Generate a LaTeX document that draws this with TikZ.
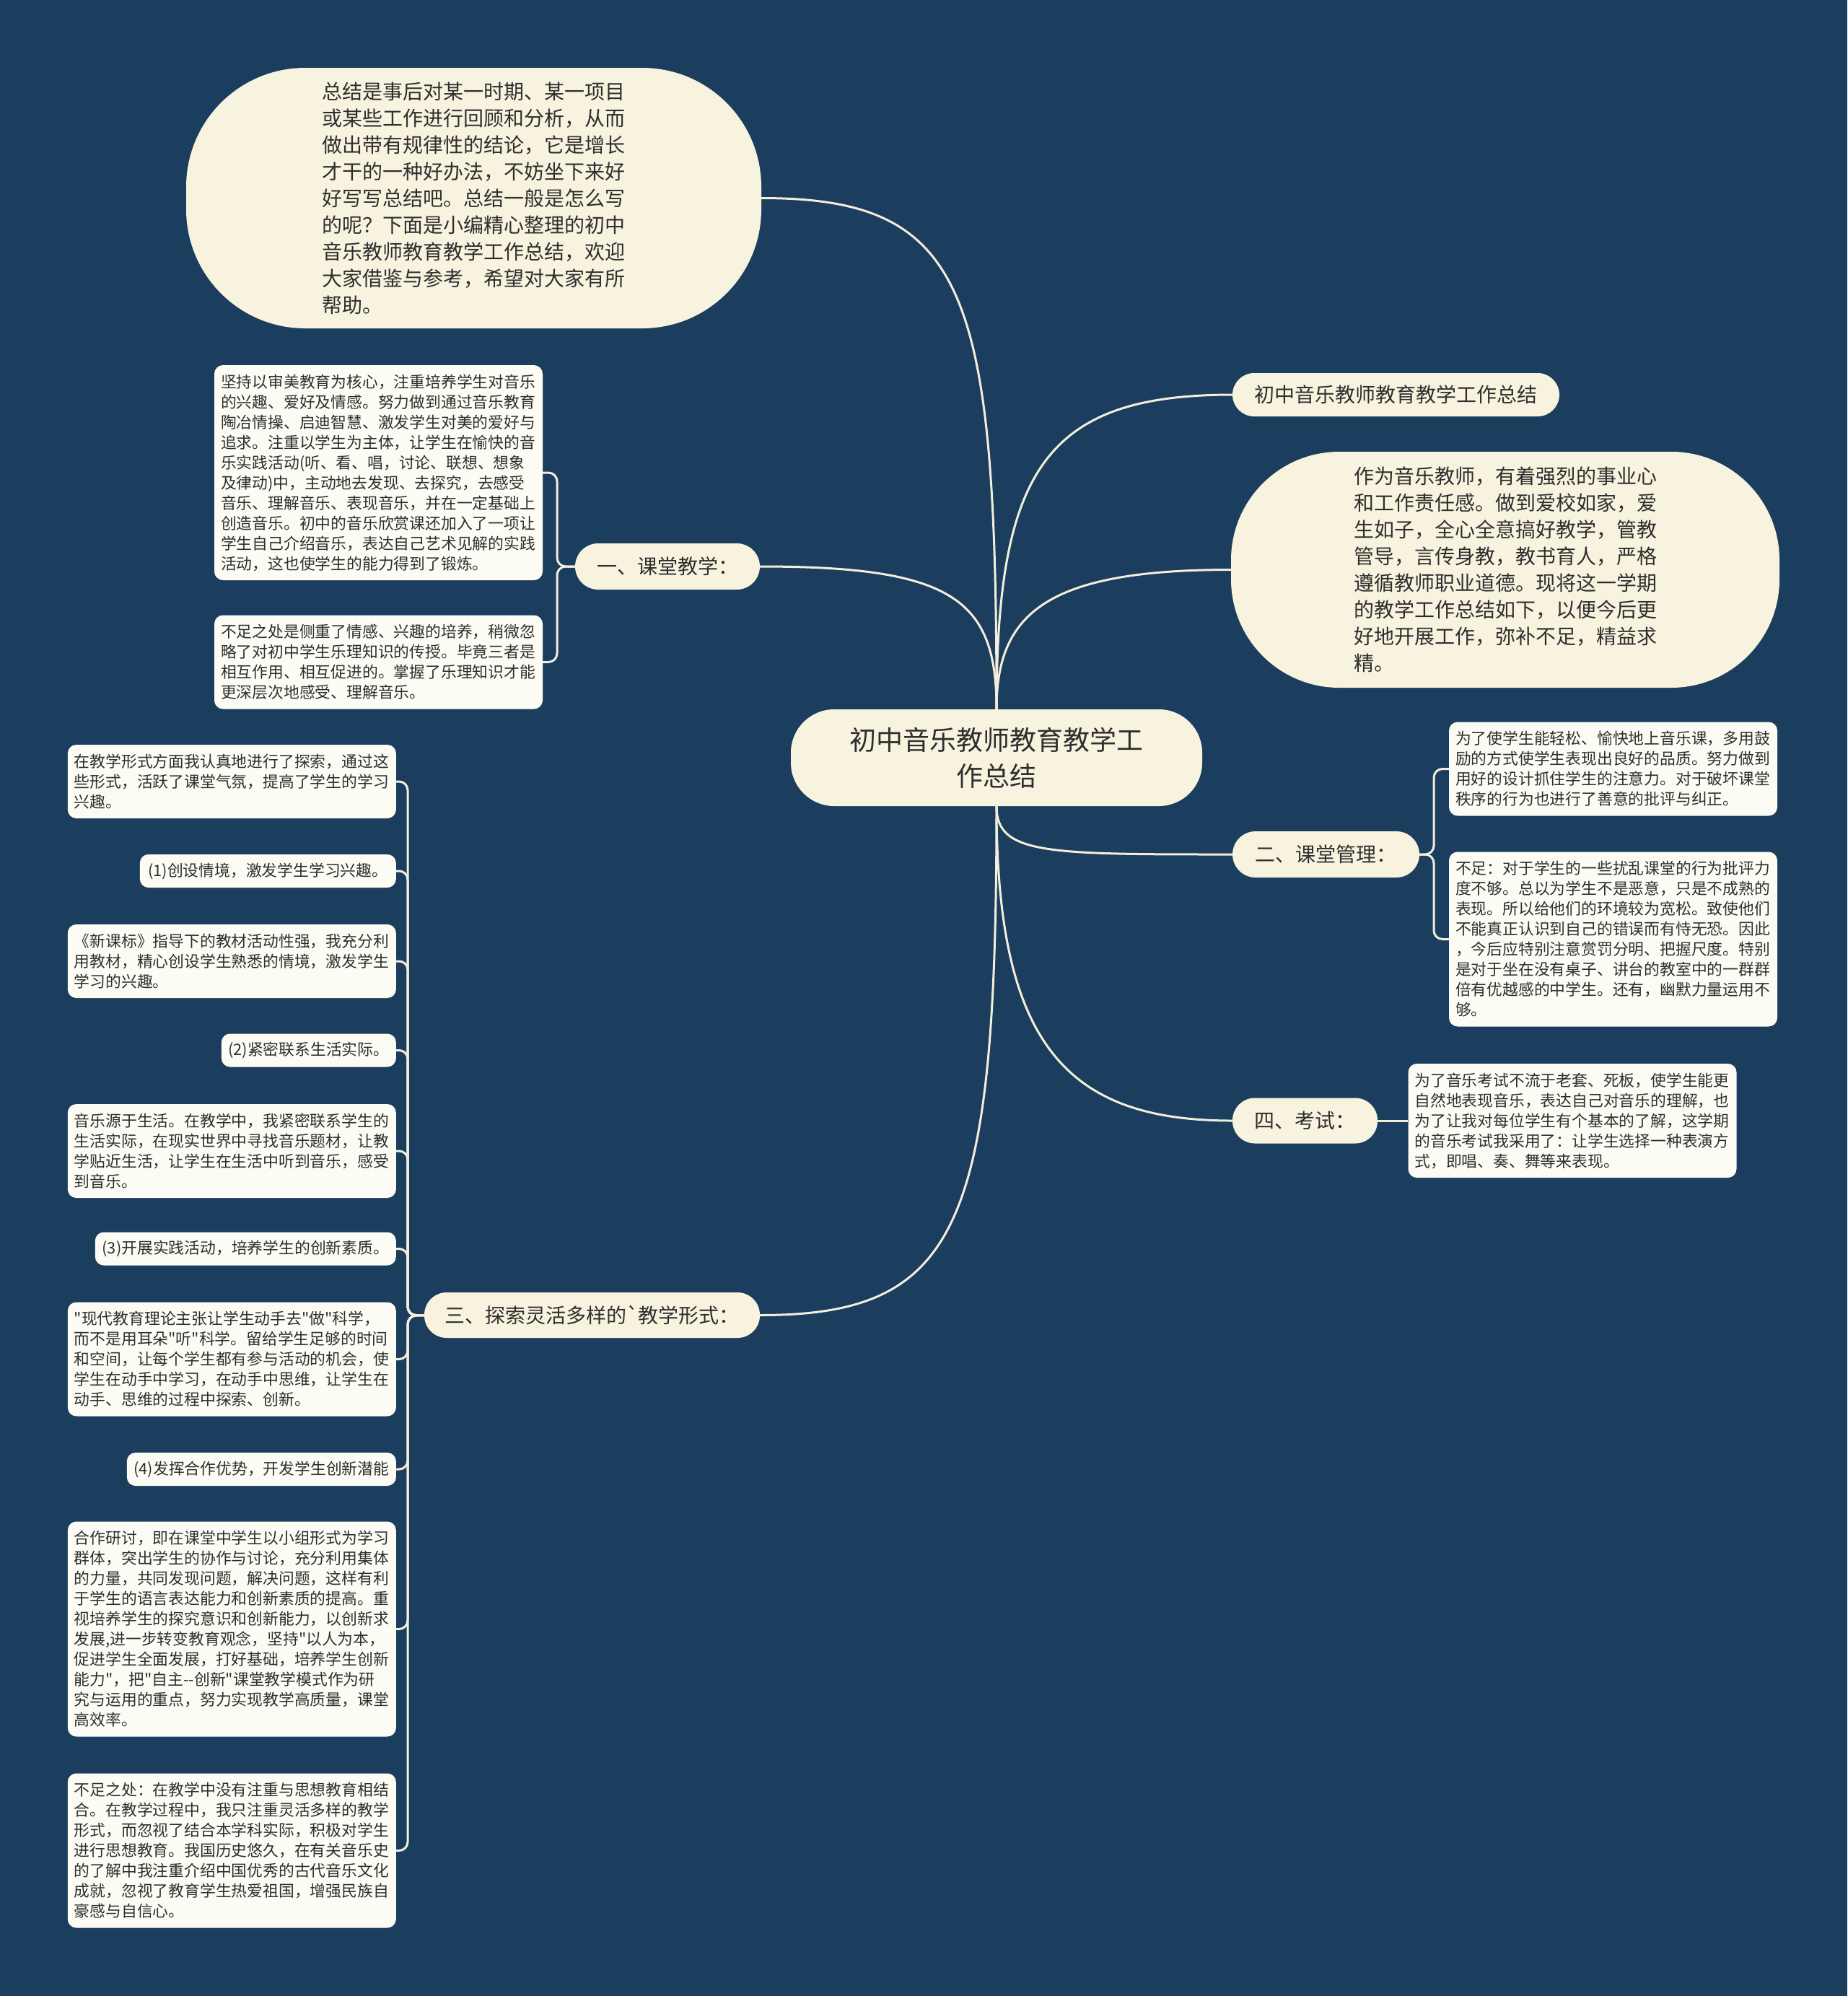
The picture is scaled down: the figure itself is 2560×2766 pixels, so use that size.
\documentclass[tikz,border=0pt]{standalone}
\usepackage{fontspec}
\newfontfamily\cjk{Noto Sans CJK SC}[Ligatures=TeXOff]
\newcommand\myleaf{\cjk\fontsize{21.8}{28}\selectfont}
\newcommand\mymid{\cjk\fontsize{28}{37}\selectfont}
\newcommand\mybig{\cjk\fontsize{37}{50}\selectfont}
\definecolor{bgc}{HTML}{1B3E5E}
\definecolor{creamc}{HTML}{F8F3DF}
\definecolor{leafc}{HTML}{FDFCF4}
\definecolor{textc}{HTML}{2E2E2E}
\definecolor{linec}{HTML}{F3EEDB}
\tikzset{
  base/.style={rectangle, inner sep=0pt, text=textc},
  topic/.style={base, fill=creamc, font=\mymid, align=center},
  leafw/.style={base, fill=leafc, rounded corners=12pt, font=\myleaf, align=left,
    text width=437pt, inner xsep=9pt, anchor=center},
  leafs/.style={base, fill=leafc, rounded corners=12pt, font=\myleaf, align=center,
    minimum height=46pt},
  conn/.style={draw=linec, line width=3pt},
  brk/.style={conn, rounded corners=12pt},
}
\begin{document}
\begin{tikzpicture}[x=1pt,y=-1pt]
\useasboundingbox (0,0) rectangle (2560,2766);
\fill[bgc] (0,0) rectangle (2560,2766);

% centre and topics
\node[topic, font=\mybig, minimum width=570pt, minimum height=134pt, rounded corners=60pt] (c) at (1381,1050)
  {初中音乐教师教育教学工\\作总结};
\node[topic, align=left, minimum width=797pt, minimum height=361pt, rounded corners=165pt] (intro) at (656.5,274.5)
  {总结是事后对某一时期、某一项目\\或某些工作进行回顾和分析，从而\\做出带有规律性的结论，它是增长\\才干的一种好办法，不妨坐下来好\\好写写总结吧。总结一般是怎么写\\的呢？下面是小编精心整理的初中\\音乐教师教育教学工作总结，欢迎\\大家借鉴与参考，希望对大家有所\\帮助。};
\node[topic, minimum width=453pt, minimum height=60pt, rounded corners=30pt] (rtitle) at (1934.5,547)
  {初中音乐教师教育教学工作总结};
\node[topic, align=left, minimum width=760pt, minimum height=327pt, rounded corners=150pt] (rbig) at (2086,789.5)
  {作为音乐教师，有着强烈的事业心\\和工作责任感。做到爱校如家，爱\\生如子，全心全意搞好教学，管教\\管导，言传身教，教书育人，严格\\遵循教师职业道德。现将这一学期\\的教学工作总结如下，以便今后更\\好地开展工作，弥补不足，精益求\\精。};
\node[topic, minimum width=256pt, minimum height=64pt, rounded corners=32pt] (b1) at (925,785) {一、课堂教学：};
\node[topic, minimum width=259pt, minimum height=64pt, rounded corners=32pt] (b2) at (1837.5,1184) {二、课堂管理：};
\node[topic, minimum width=201pt, minimum height=63pt, rounded corners=31pt] (b4) at (1808.5,1553) {四、考试：};
\node[topic, minimum width=465pt, minimum height=63pt, rounded corners=31pt] (b3) at (820.5,1822.5) {三、探索灵活多样的`教学形式：};

% leaves of b1
\node[leafw, minimum height=298pt] (l1a) at (524.5,655)
  {坚持以审美教育为核心，注重培养学生对音乐\\的兴趣、爱好及情感。努力做到通过音乐教育\\陶冶情操、启迪智慧、激发学生对美的爱好与\\追求。注重以学生为主体，让学生在愉快的音\\乐实践活动(听、看、唱，讨论、联想、想象\\及律动)中，主动地去发现、去探究，去感受\\音乐、理解音乐、表现音乐，并在一定基础上\\创造音乐。初中的音乐欣赏课还加入了一项让\\学生自己介绍音乐，表达自己艺术见解的实践\\活动，这也使学生的能力得到了锻炼。};
\node[leafw, minimum height=130pt] (l1b) at (524.5,917.5)
  {不足之处是侧重了情感、兴趣的培养，稍微忽\\略了对初中学生乐理知识的传授。毕竟三者是\\相互作用、相互促进的。掌握了乐理知识才能\\更深层次地感受、理解音乐。};

% leaves of b2
\node[leafw, minimum height=130pt] (l2a) at (2235.5,1065.5)
  {为了使学生能轻松、愉快地上音乐课，多用鼓\\励的方式使学生表现出良好的品质。努力做到\\用好的设计抓住学生的注意力。对于破坏课堂\\秩序的行为也进行了善意的批评与纠正。};
\node[leafw, minimum height=242pt] (l2b) at (2235.5,1301.5)
  {不足：对于学生的一些扰乱课堂的行为批评力\\度不够。总以为学生不是恶意，只是不成熟的\\表现。所以给他们的环境较为宽松。致使他们\\不能真正认识到自己的错误而有恃无恐。因此\\，今后应特别注意赏罚分明、把握尺度。特别\\是对于坐在没有桌子、讲台的教室中的一群群\\倍有优越感的中学生。还有，幽默力量运用不\\够。};

% leaf of b4
\node[leafw, minimum height=158pt] (l4) at (2179,1553)
  {为了音乐考试不流于老套、死板，使学生能更\\自然地表现音乐，表达自己对音乐的理解，也\\为了让我对每位学生有个基本的了解，这学期\\的音乐考试我采用了：让学生选择一种表演方\\式，即唱、奏、舞等来表现。};

% leaves of b3
\node[leafw, anchor=east, minimum height=102pt] (t1) at (549,1083)
  {在教学形式方面我认真地进行了探索，通过这\\些形式，活跃了课堂气氛，提高了学生的学习\\兴趣。};
\node[leafs, anchor=east, minimum width=355pt] (t2) at (549,1207)
  {(1)创设情境，激发学生学习兴趣。};
\node[leafw, anchor=east, minimum height=102pt] (t3) at (549,1332)
  {《新课标》指导下的教材活动性强，我充分利\\用教材，精心创设学生熟悉的情境，激发学生\\学习的兴趣。};
\node[leafs, anchor=east, minimum width=242pt] (t4) at (549,1455.5)
  {(2)紧密联系生活实际。};
\node[leafw, anchor=east, minimum height=130pt] (t5) at (549,1595)
  {音乐源于生活。在教学中，我紧密联系学生的\\生活实际，在现实世界中寻找音乐题材，让教\\学贴近生活，让学生在生活中听到音乐，感受\\到音乐。};
\node[leafs, anchor=east, minimum width=417pt] (t6) at (549,1730.5)
  {(3)开展实践活动，培养学生的创新素质。};
\node[leafw, anchor=east, minimum height=158pt] (t7) at (549,1883.5)
  {"现代教育理论主张让学生动手去"做"科学，\\而不是用耳朵"听"科学。留给学生足够的时间\\和空间，让每个学生都有参与活动的机会，使\\学生在动手中学习，在动手中思维，让学生在\\动手、思维的过程中探索、创新。};
\node[leafs, anchor=east, minimum width=373pt] (t8) at (549,2036)
  {(4)发挥合作优势，开发学生创新潜能};
\node[leafw, anchor=east, minimum height=298pt] (t9) at (549,2257.5)
  {合作研讨，即在课堂中学生以小组形式为学习\\群体，突出学生的协作与讨论，充分利用集体\\的力量，共同发现问题，解决问题，这样有利\\于学生的语言表达能力和创新素质的提高。重\\视培养学生的探究意识和创新能力，以创新求\\发展,进一步转变教育观念，坚持"以人为本，\\促进学生全面发展，打好基础，培养学生创新\\能力"，把"自主--创新"课堂教学模式作为研\\究与运用的重点，努力实现教学高质量，课堂\\高效率。};
\node[leafw, anchor=east, minimum height=214pt] (t10) at (549,2564.5)
  {不足之处：在教学中没有注重与思想教育相结\\合。在教学过程中，我只注重灵活多样的教学\\形式，而忽视了结合本学科实际，积极对学生\\进行思想教育。我国历史悠久，在有关音乐史\\的了解中我注重介绍中国优秀的古代音乐文化\\成就，忽视了教育学生热爱祖国，增强民族自\\豪感与自信心。};

% junction points
\coordinate (j1) at (772,785);
\coordinate (j2) at (1987,1184);
\coordinate (j3) at (565,1823);

% main connectors
\draw[conn] (c.north) .. controls (1381,400) and (1340,274.5) .. (intro.east);
\draw[conn] (c.north) .. controls (1381,830) and (1320,785) .. (b1.east);
\draw[conn] (c.north) .. controls (1381,650) and (1450,547) .. (rtitle.west);
\draw[conn] (c.north) .. controls (1381,850) and (1450,789.5) .. (rbig.west);
\draw[conn] (c.south) .. controls (1381,1184) and (1450,1184) .. (b2.west);
\draw[conn] (c.south) .. controls (1381,1450) and (1480,1553) .. (b4.west);
\draw[conn] (c.south) .. controls (1381,1700) and (1330,1822.5) .. (b3.east);

% brackets
\foreach \t in {l1a,l1b}{\draw[brk] (b1.west) -- (j1) |- (\t.east);}
\foreach \t in {l2a,l2b}{\draw[brk] (b2.east) -- (j2) |- (\t.west);}
\draw[conn] (b4.east) -- (l4.west);
\foreach \t in {t1,t2,t3,t4,t5,t6,t7,t8,t9,t10}{\draw[brk] (b3.west) -- (j3) |- (\t.east);}
\end{tikzpicture}
\end{document}
